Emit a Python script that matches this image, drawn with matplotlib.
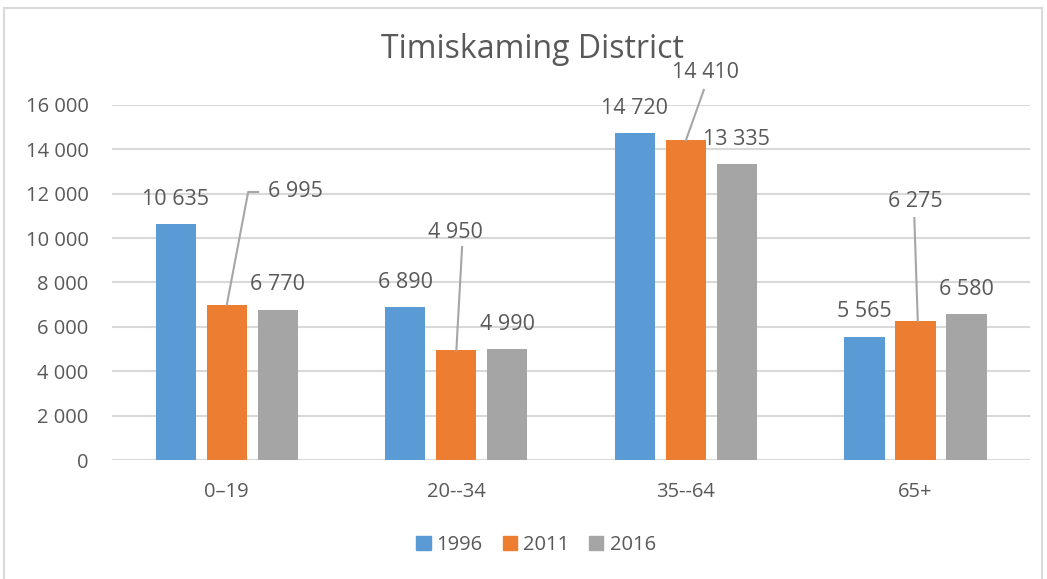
import matplotlib.pyplot as plt
from matplotlib.lines import Line2D
import numpy as np

plt.rcParams['font.family'] = ['Open Sans', 'DejaVu Sans']

# data
groups = ["0\u201319", "20--34", "35--64", "65+"]
years = ["1996", "2011", "2016"]
v1996 = [10635, 6890, 14720, 5565]
v2011 = [6995, 4950, 14410, 6275]
v2016 = [6770, 4990, 13335, 6580]
colors = ["#5b9bd5", "#ed7d31", "#a5a5a5"]
txt = "#595959"

def fmt(v):
    return f"{v:,}".replace(",", " ")

fig = plt.figure(figsize=(10.47, 5.79), dpi=100)
ax = fig.add_axes([0.107, 0.2055, 0.877, 0.6132])

x = np.arange(len(groups))
w = 0.175
step = 0.222
series = [v1996, v2011, v2016]
for i, vals in enumerate(series):
    ax.bar(x + (i - 1) * step, vals, w, color=colors[i], label=years[i], zorder=3)

ax.set_xlim(-0.5, 3.5)
ax.set_ylim(0, 16000)
ax.set_yticks(np.arange(0, 16001, 2000))
ax.set_yticklabels([fmt(t) for t in range(0, 16001, 2000)])
ax.set_xticks(x)
ax.set_xticklabels(groups)
ax.grid(axis='y', color='#d9d9d9', linewidth=1.5, zorder=0)
for s in ax.spines.values():
    s.set_visible(False)
ax.axhline(0, color='#d9d9d9', linewidth=1.5, zorder=1)
ax.tick_params(axis='both', length=0, colors=txt, labelsize=14.5)
ax.tick_params(axis='y', pad=17)
ax.tick_params(axis='x', pad=16)

# labels right above the bars
lab_kw = dict(ha='center', va='center', fontsize=15.5, color=txt, textcoords='offset points')
for i, vals in enumerate(series):
    for j, v in enumerate(vals):
        if i == 1:
            continue
        ax.annotate(fmt(v), (x[j] + (i - 1) * step, v), xytext=(0, 18), **lab_kw)

# 2011 labels moved off the bars, with leader lines
# (text x, text y, leader points)
moved = [
    (0.30, 12079, [(0.0, 6995), (0.093, 12079), (0.136, 12079)]),
    (0.995, 10231, [(1.0, 4950), (1.025, 9600)]),
    (2.084, 17442, [(2.0, 14410), (2.078, 16676)]),
    (3.0, 11628, [(3.01, 6275), (2.995, 10907)]),
]
for j, (tx, ty, pts) in enumerate(moved):
    ax.text(tx, ty, fmt(v2011[j]), ha='center', va='center', fontsize=15.5, color=txt, clip_on=False)
    px, py = zip(*pts)
    ax.plot(px, py, color='#a6a6a6', linewidth=1.5, zorder=4, clip_on=False)

fig.text(0.509, 0.915, "Timiskaming District", ha='center', va='center', fontsize=23, color=txt)

handles = [plt.Rectangle((0, 0), 1, 1, color=c) for c in colors]
fig.legend(handles, years, loc='center', bbox_to_anchor=(0.512, 0.058), ncol=3, frameon=False,
           fontsize=14.5, labelcolor=txt, handlelength=0.7, handleheight=0.7, handletextpad=0.3,
           columnspacing=1.0)

# chart border
fig.add_artist(Line2D([0.004, 0.004], [0, 0.986], color='#d9d9d9', linewidth=1.5))
fig.add_artist(Line2D([0.004, 0.995], [0.986, 0.986], color='#d9d9d9', linewidth=1.5))
fig.add_artist(Line2D([0.995, 0.995], [0, 0.986], color='#d9d9d9', linewidth=1.5))

fig.savefig("out.png", dpi=100)
